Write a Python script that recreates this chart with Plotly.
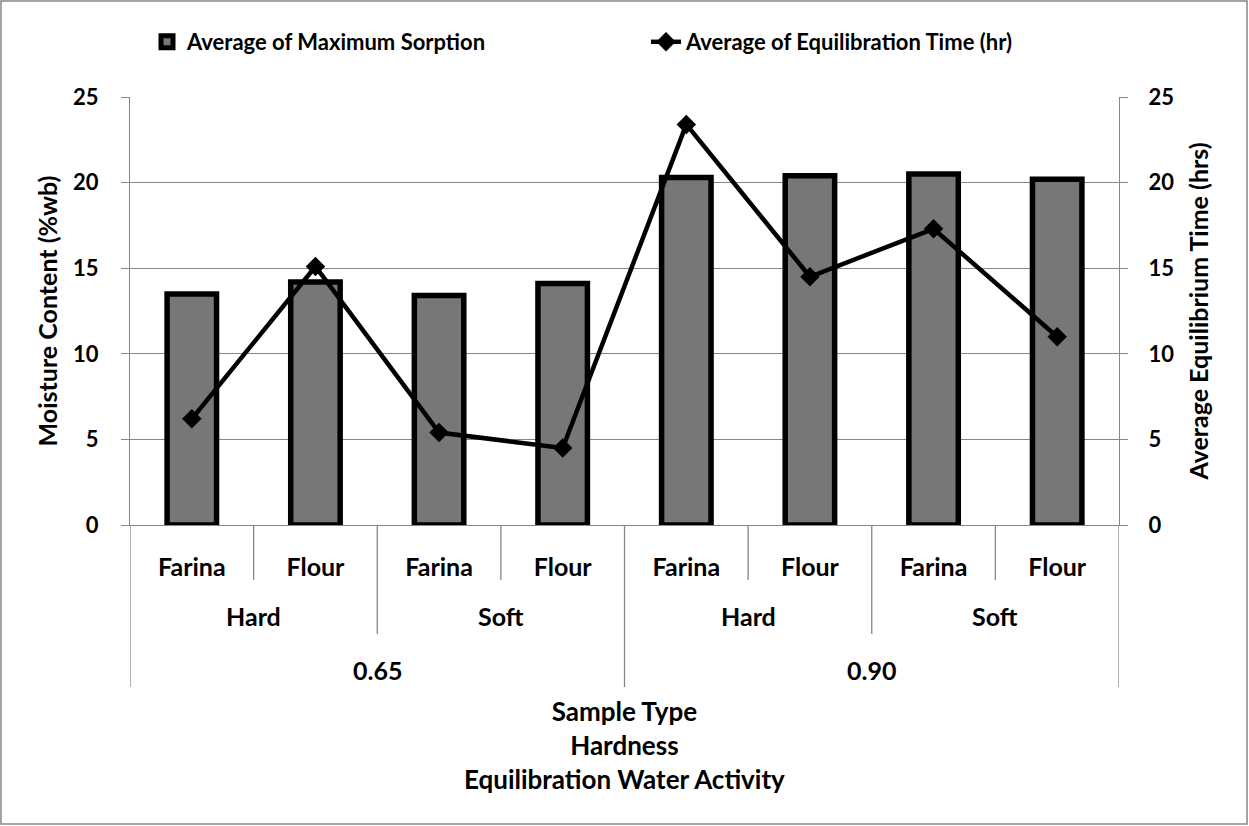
import plotly.graph_objects as go

# chart values
sample_type = ["Farina", "Flour", "Farina", "Flour", "Farina", "Flour", "Farina", "Flour"]
hardness = ["Hard", "Hard", "Soft", "Soft", "Hard", "Hard", "Soft", "Soft"]
water_activity = ["0.65", "0.65", "0.65", "0.65", "0.90", "0.90", "0.90", "0.90"]
max_sorption = [13.5, 14.2, 13.4, 14.1, 20.3, 20.4, 20.5, 20.2]
equil_time = [6.2, 15.1, 5.4, 4.5, 23.4, 14.5, 17.3, 11.0]

W, H = 1249, 826
ML, MR, MT, MB = 130, 130, 97, 301
PW = W - ML - MR
PH = H - MT - MB
GRID = "#868686"
FONT = "Lato"


def py(p):
    # pixel row -> paper y
    return (H - MB - p) / PH


def px(p):
    return (p - ML) / PW


def groups(labels):
    out = []
    start = 0
    for i in range(1, len(labels) + 1):
        if i == len(labels) or labels[i] != labels[start] or (
            labels is hardness and water_activity[i] != water_activity[start]
        ):
            out.append((labels[start], start, i - 1))
            start = i
    return out


xs = list(range(len(sample_type)))

fig = go.Figure()
fig.add_trace(go.Bar(
    x=xs, y=max_sorption, width=0.4,
    name="Average of Maximum Sorption", legend="legend",
    marker=dict(color="#777777", line=dict(color="black", width=5.5)),
))
fig.add_trace(go.Scatter(
    x=xs, y=equil_time, yaxis="y2", mode="lines+markers",
    name="Average of Equilibration Time (hr)", legend="legend2",
    line=dict(color="black", width=4.5),
    marker=dict(symbol="diamond", size=15, color="black"),
))

shapes = []
annotations = []

# category separators
for b in range(len(xs) + 1):
    xb = b - 0.5
    if b in (0, len(xs)) or water_activity[b - 1] != water_activity[b]:
        bottom = 687
    elif hardness[b - 1] != hardness[b]:
        bottom = 634
    else:
        bottom = 580
    shapes.append(dict(type="line", xref="x", yref="paper", x0=xb, x1=xb,
                       y0=0, y1=py(bottom), line=dict(color=GRID, width=1.3)))

for lab, a, b in groups(hardness):
    annotations.append(dict(x=(a + b) / 2, y=py(616), xref="x", yref="paper",
                            text=lab, showarrow=False, yanchor="middle",
                            font=dict(size=25)))
for lab, a, b in groups(water_activity):
    annotations.append(dict(x=(a + b) / 2, y=py(670), xref="x", yref="paper",
                            text=lab, showarrow=False, yanchor="middle",
                            font=dict(size=25)))

annotations.append(dict(
    x=0.5, y=py(745), xref="paper", yref="paper", showarrow=False,
    text="Sample Type<br>Hardness<br>Equilibration Water Activity",
    yanchor="middle", align="center", font=dict(size=26),
))

# outer chart border
shapes.append(dict(type="rect", xref="paper", yref="paper",
                   x0=px(1), x1=px(W - 2), y0=py(1), y1=py(H - 2),
                   line=dict(color=GRID, width=1.5)))

legend_style = dict(orientation="h", xanchor="left", y=py(42), yanchor="middle",
                    font=dict(size=22), bgcolor="rgba(0,0,0,0)")

fig.update_layout(
    width=W, height=H,
    margin=dict(l=ML, r=MR, t=MT, b=MB),
    paper_bgcolor="white", plot_bgcolor="white",
    font=dict(family=FONT, size=22, color="black", weight="bold"),
    bargap=0.6,
    showlegend=True,
    legend=dict(x=px(147), **legend_style),
    legend2=dict(x=px(646), **legend_style),
    xaxis=dict(
        range=[-0.5, len(xs) - 0.5], tickvals=xs, ticktext=sample_type,
        showgrid=False, zeroline=False, showline=True, linecolor=GRID,
        linewidth=1.3, ticks="", ticklabelstandoff=20,
        tickfont=dict(size=25),
    ),
    yaxis=dict(
        range=[0, 25], dtick=5, showgrid=True, gridcolor=GRID, gridwidth=1.3,
        showline=True, linecolor=GRID, linewidth=1.3, zeroline=False,
        ticks="outside", ticklen=8, tickcolor=GRID, tickwidth=1.3,
        ticklabelstandoff=18,
        title=dict(text="Moisture Content (%wb)", standoff=8,
                   font=dict(size=25)),
    ),
    yaxis2=dict(
        range=[0, 25], dtick=5, overlaying="y", side="right", showgrid=False,
        showline=True, linecolor=GRID, linewidth=1.3, zeroline=False,
        ticks="outside", ticklen=8, tickcolor=GRID, tickwidth=1.3,
        ticklabelstandoff=16,
        title=dict(text="Average Equilibrium Time (hrs)", standoff=17,
                   font=dict(size=25)),
    ),
    shapes=shapes,
    annotations=annotations,
)

fig.write_html("out.html", config={"displayModeBar": False},
               post_script="document.body.style.margin = '0';")
